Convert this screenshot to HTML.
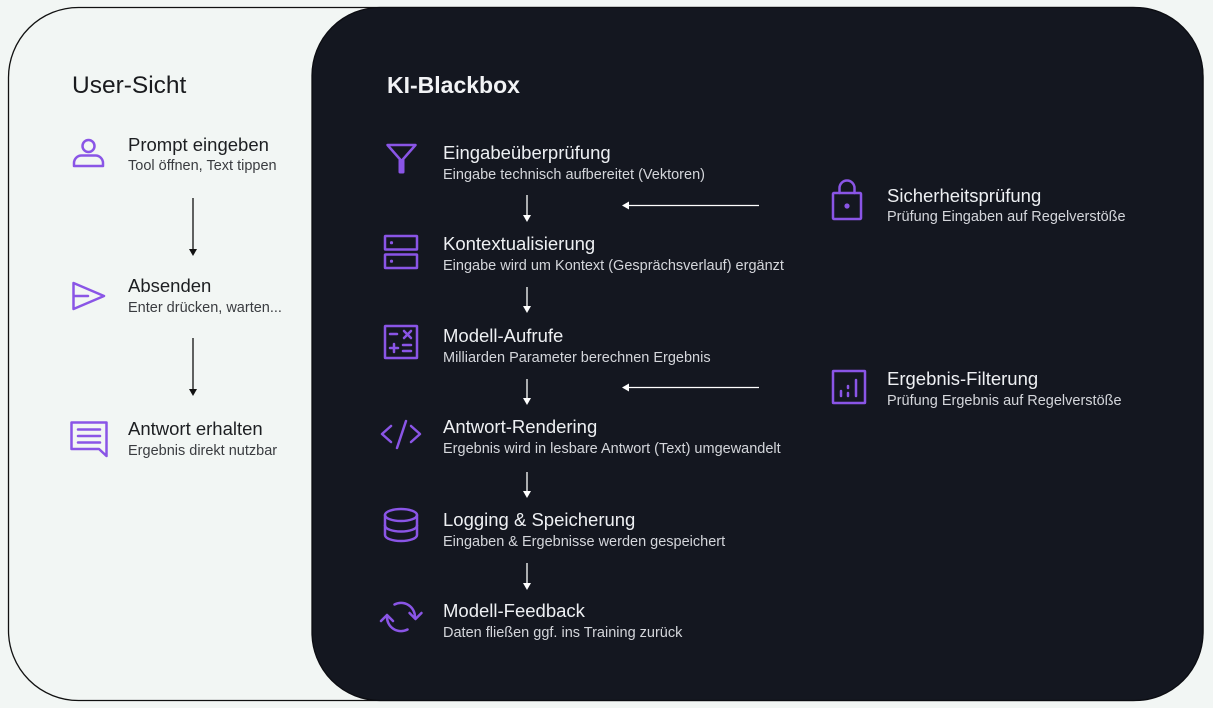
<!DOCTYPE html>
<html>
<head>
<meta charset="utf-8">
<style>
  html,body{margin:0;padding:0;background:#f2f6f4;}
  svg{display:block;}
  text{font-family:"Liberation Sans", Arial, sans-serif;}
  .lt{fill:#1d1f22;font-size:18.5px;}
  .ls{fill:#3a3c40;font-size:14.5px;}
  .dt{fill:#eef0f3;font-size:18.5px;}
  .ds{fill:#d4d6db;font-size:14.5px;}
  .ic{fill:none;stroke:#8a55e6;stroke-width:2.5;stroke-linecap:round;stroke-linejoin:round;}
</style>
</head>
<body>
<svg width="1213" height="708" viewBox="0 0 1213 708" xmlns="http://www.w3.org/2000/svg">
  <rect x="0" y="0" width="1213" height="708" fill="#f2f6f4"/>
  <!-- outer container -->
  <rect x="8.5" y="7.5" width="1194.5" height="693" rx="70" ry="70" fill="#f2f6f4" stroke="#111" stroke-width="1.3"/>
  <!-- dark panel -->
  <rect x="312" y="7.5" width="891" height="693" rx="68" ry="68" fill="#141720" stroke="#0c0d12" stroke-width="1.3"/>

  <!-- LEFT: User-Sicht -->
  <text x="72" y="93" style="font-size:24.5px;fill:#1a1b1e;">User-Sicht</text>

  <!-- person icon -->
  <circle class="ic" cx="88.5" cy="146" r="6"/>
  <path class="ic" d="M74 166 V163 a7.5 7.5 0 0 1 7.5 -7.5 H95.5 a7.5 7.5 0 0 1 7.5 7.5 V166 Z"/>
  <text class="lt" x="128" y="151">Prompt eingeben</text>
  <text class="ls" x="128" y="170">Tool öffnen, Text tippen</text>

  <!-- arrow -->
  <line x1="193" y1="198" x2="193" y2="250" stroke="#111" stroke-width="1.3"/>
  <path d="M189 249 L197 249 L193 256 Z" fill="#111"/>

  <!-- send icon -->
  <path class="ic" d="M73.5 283 L104 296 L73.5 309 Z"/>
  <line class="ic" x1="74" y1="296" x2="88" y2="296"/>
  <text class="lt" x="128" y="292">Absenden</text>
  <text class="ls" x="128" y="312">Enter drücken, warten...</text>

  <line x1="193" y1="338" x2="193" y2="390" stroke="#111" stroke-width="1.3"/>
  <path d="M189 389 L197 389 L193 396 Z" fill="#111"/>

  <!-- chat icon -->
  <path class="ic" d="M71.5 422.5 H106.5 V456 L99 449 H71.5 Z"/>
  <line class="ic" x1="78" y1="429.5" x2="100" y2="429.5"/>
  <line class="ic" x1="78" y1="436" x2="100" y2="436"/>
  <line class="ic" x1="78" y1="442.5" x2="100" y2="442.5"/>
  <text class="lt" x="128" y="435">Antwort erhalten</text>
  <text class="ls" x="128" y="455">Ergebnis direkt nutzbar</text>

  <!-- RIGHT: KI-Blackbox -->
  <text x="387" y="93" style="font-size:23px;font-weight:bold;fill:#f2f3f5;">KI-Blackbox</text>

  <!-- funnel -->
  <path class="ic" d="M387.5 145 H415.5 L401.5 161 Z"/>
  <rect x="398.5" y="159" width="6" height="14.5" rx="1.5" fill="#8a55e6"/>
  <text class="dt" x="443" y="159">Eingabeüberprüfung</text>
  <text class="ds" x="443" y="179">Eingabe technisch aufbereitet (Vektoren)</text>

  <!-- server -->
  <rect class="ic" x="385" y="236" width="32" height="13.5" rx="0.5"/>
  <rect class="ic" x="385" y="254.5" width="32" height="13.5" rx="0.5"/>
  <circle cx="391.5" cy="242.7" r="1.6" fill="#8a55e6"/>
  <circle cx="391.5" cy="261.2" r="1.6" fill="#8a55e6"/>
  <text class="dt" x="443" y="250">Kontextualisierung</text>
  <text class="ds" x="443" y="270">Eingabe wird um Kontext (Gesprächsverlauf) ergänzt</text>

  <!-- calculator -->
  <rect class="ic" x="385" y="326" width="32" height="32" rx="0.5"/>
  <line class="ic" x1="390" y1="334" x2="397" y2="334"/>
  <line class="ic" x1="404" y1="331" x2="411" y2="338"/>
  <line class="ic" x1="411" y1="331" x2="404" y2="338"/>
  <line class="ic" x1="390" y1="348" x2="398" y2="348"/>
  <line class="ic" x1="394" y1="344" x2="394" y2="352"/>
  <line class="ic" x1="403" y1="345" x2="411" y2="345"/>
  <line class="ic" x1="403" y1="351" x2="411" y2="351"/>
  <text class="dt" x="443" y="342">Modell-Aufrufe</text>
  <text class="ds" x="443" y="362">Milliarden Parameter berechnen Ergebnis</text>

  <!-- code -->
  <path class="ic" d="M391 426 L382 434 L391 442"/>
  <path class="ic" d="M411 426 L420 434 L411 442"/>
  <line class="ic" x1="406" y1="421" x2="397" y2="448"/>
  <text class="dt" x="443" y="433">Antwort-Rendering</text>
  <text class="ds" x="443" y="453">Ergebnis wird in lesbare Antwort (Text) umgewandelt</text>

  <!-- database -->
  <ellipse class="ic" cx="401" cy="515" rx="16" ry="6"/>
  <path class="ic" d="M385 515 V535 A16 6 0 0 0 417 535 V515"/>
  <path class="ic" d="M385 525.5 A16 6 0 0 0 417 525.5"/>
  <text class="dt" x="443" y="526">Logging &amp; Speicherung</text>
  <text class="ds" x="443" y="546">Eingaben &amp; Ergebnisse werden gespeichert</text>

  <!-- refresh -->
  <path class="ic" d="M394.5 604.5 A14 14 0 0 1 415 617"/>
  <path class="ic" d="M409.5 613 L415.5 619 L421.5 613"/>
  <path class="ic" d="M407.5 629.5 A14 14 0 0 1 387 617"/>
  <path class="ic" d="M381 621 L387 615 L393 621"/>
  <text class="dt" x="443" y="617">Modell-Feedback</text>
  <text class="ds" x="443" y="637">Daten fließen ggf. ins Training zurück</text>

  <!-- vertical white arrows -->
  <g stroke="#ffffff" stroke-width="1.3">
    <line x1="527" y1="195" x2="527" y2="216"/>
    <line x1="527" y1="287" x2="527" y2="307"/>
    <line x1="527" y1="379" x2="527" y2="399"/>
    <line x1="527" y1="472" x2="527" y2="492"/>
    <line x1="527" y1="563" x2="527" y2="584"/>
    <line x1="759" y1="205.5" x2="628" y2="205.5"/>
    <line x1="759" y1="387.5" x2="628" y2="387.5"/>
  </g>
  <g fill="#ffffff">
    <path d="M523 215 L531 215 L527 222 Z"/>
    <path d="M523 306 L531 306 L527 313 Z"/>
    <path d="M523 398 L531 398 L527 405 Z"/>
    <path d="M523 491 L531 491 L527 498 Z"/>
    <path d="M523 583 L531 583 L527 590 Z"/>
    <path d="M629 201.5 L629 209.5 L622 205.5 Z"/>
    <path d="M629 383.5 L629 391.5 L622 387.5 Z"/>
  </g>

  <!-- lock -->
  <path class="ic" d="M839.5 193 V188 a7.5 7.5 0 0 1 15 0 V193"/>
  <rect class="ic" x="833" y="193" width="28" height="26" rx="1"/>
  <circle cx="847" cy="206" r="2.6" fill="#8a55e6"/>
  <text class="dt" x="887" y="202">Sicherheitsprüfung</text>
  <text class="ds" x="887" y="221">Prüfung Eingaben auf Regelverstöße</text>

  <!-- filter / chart -->
  <rect class="ic" x="833" y="371" width="32" height="32" rx="0.5"/>
  <line class="ic" x1="841" y1="391" x2="841" y2="396"/>
  <line class="ic" x1="848" y1="386" x2="848" y2="388"/>
  <line class="ic" x1="848" y1="393" x2="848" y2="396"/>
  <line class="ic" x1="856" y1="380" x2="856" y2="396"/>
  <text class="dt" x="887" y="385">Ergebnis-Filterung</text>
  <text class="ds" x="887" y="405">Prüfung Ergebnis auf Regelverstöße</text>
</svg>
</body>
</html>
